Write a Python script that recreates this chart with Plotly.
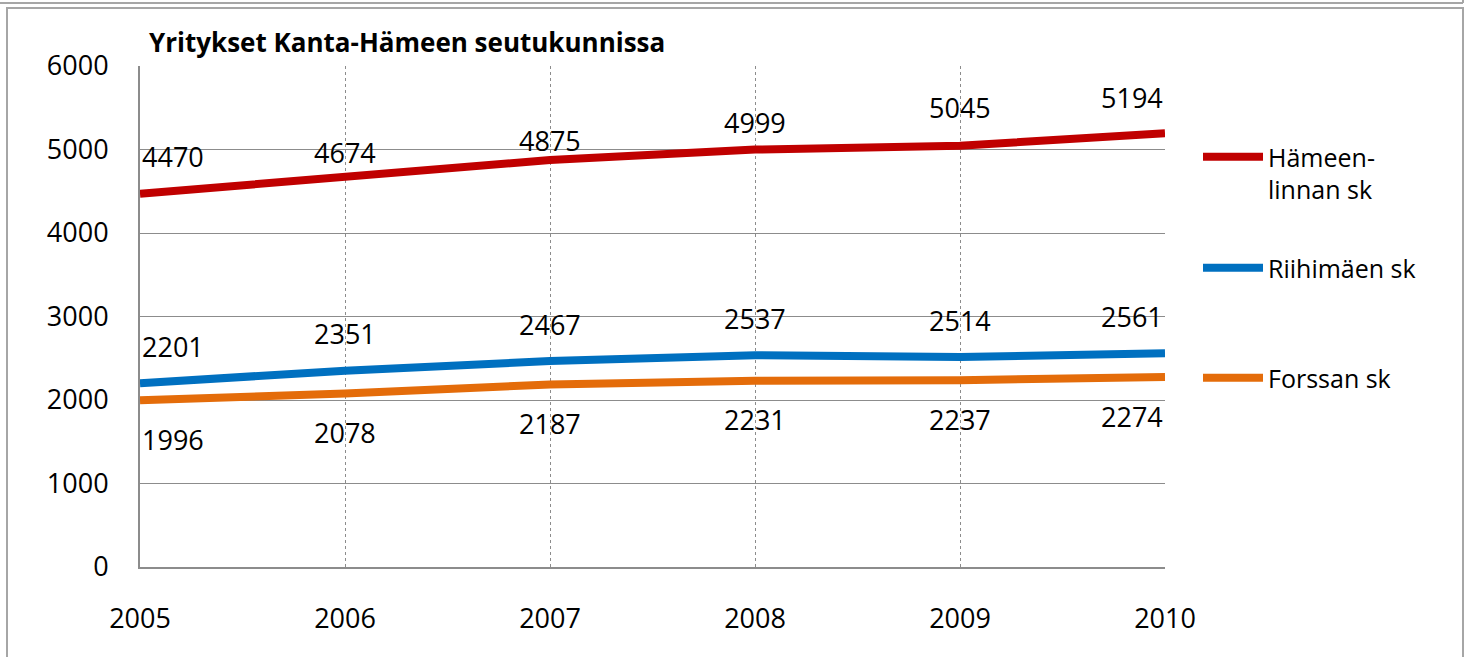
import plotly.graph_objects as go

# ---- data ----
years = [2005, 2006, 2007, 2008, 2009, 2010]
series_names = ["Hämeen-<br>linnan sk", "Riihimäen sk", "Forssan sk"]
hameenlinna = [4470, 4674, 4875, 4999, 5045, 5194]
riihimaki = [2201, 2351, 2467, 2537, 2514, 2561]
forssa = [1996, 2078, 2187, 2231, 2237, 2274]
y_ticks = [0, 1000, 2000, 3000, 4000, 5000, 6000]
title_text = "Yritykset Kanta-Hämeen seutukunnissa"

# ---- style ----
colors = ["#C00000", "#0070C0", "#E46C0A"]
FONT = "Open Sans"
W, H = 1472, 657
L, R, T, B = 140, 1165, 66, 567   # plot area in pixels
red_shift = [37, 24, 19, 27, 38, 36]   # label offsets (px) for top series
blue_shift = 37
orange_shift = -39
legend_tops = [134, 245, 355]          # pixel top of each legend block

def px_x(p):
    return (p - L) / (R - L)

def px_y(p):
    return (B - p) / (B - T)

fig = go.Figure()
legend_ids = ["legend", "legend2", "legend3"]
for name, vals, col, lid in zip(series_names, [hameenlinna, riihimaki, forssa], colors, legend_ids):
    fig.add_trace(go.Scatter(x=years, y=vals, mode="lines", name=name,
                             line=dict(color=col, width=8), legend=lid))

def anchor(i):
    if i == 0:
        return "left"
    if i == len(years) - 1:
        return "right"
    return "center"

annotations = []
for i, (yr, v) in enumerate(zip(years, hameenlinna)):
    annotations.append(dict(x=yr, y=v, text=str(v), showarrow=False, xanchor=anchor(i),
                            yanchor="middle", yshift=red_shift[i]))
for i, (yr, v) in enumerate(zip(years, riihimaki)):
    annotations.append(dict(x=yr, y=v, text=str(v), showarrow=False, xanchor=anchor(i),
                            yanchor="middle", yshift=blue_shift))
for i, (yr, v) in enumerate(zip(years, forssa)):
    annotations.append(dict(x=yr, y=v, text=str(v), showarrow=False, xanchor=anchor(i),
                            yanchor="middle", yshift=orange_shift))
for a in annotations:
    a["font"] = dict(family=FONT, size=27, color="#000000")

annotations.append(dict(x=px_x(147), y=px_y(42), xref="paper", yref="paper",
                        text="<b>" + title_text + "</b>", showarrow=False,
                        xanchor="left", yanchor="middle",
                        font=dict(family=FONT, size=26, color="#000000")))

shapes = [
    dict(type="rect", xref="paper", yref="paper", x0=px_x(7), x1=px_x(1463),
         y0=px_y(700), y1=px_y(8), line=dict(color="#A6A6A6", width=2), layer="below"),
    dict(type="line", xref="paper", yref="paper", x0=px_x(0), x1=px_x(1463),
         y0=px_y(3), y1=px_y(3), line=dict(color="#A6A6A6", width=2), layer="below"),
    dict(type="line", xref="paper", yref="paper", x0=px_x(1463), x1=px_x(1463),
         y0=px_y(3), y1=px_y(-5), line=dict(color="#A6A6A6", width=2), layer="below"),
]

legend_common = dict(xanchor="left", yanchor="top",
                     font=dict(family=FONT, size=25, color="#000000"),
                     itemwidth=60, valign="top", bgcolor="rgba(0,0,0,0)")

fig.update_layout(
    width=W, height=H,
    margin=dict(l=L, r=W - R, t=T, b=H - B, pad=0),
    paper_bgcolor="#FFFFFF", plot_bgcolor="#FFFFFF",
    font=dict(family=FONT, size=27, color="#000000"),
    annotations=annotations, shapes=shapes,
    showlegend=True,
    legend=dict(x=px_x(1198), y=px_y(legend_tops[0]), **legend_common),
    legend2=dict(x=px_x(1198), y=px_y(legend_tops[1]), **legend_common),
    legend3=dict(x=px_x(1198), y=px_y(legend_tops[2]), **legend_common),
    xaxis=dict(range=[2005, 2010], tickvals=years, ticktext=[str(y) for y in years],
               showgrid=True, gridcolor="#8C8C8C", griddash="dot", gridwidth=1,
               showline=True, linecolor="#8C8C8C", linewidth=2, ticks="",
               ticklabelstandoff=27, tickfont=dict(family=FONT, size=27),
               zeroline=False, fixedrange=True),
    yaxis=dict(range=[0, 6000], tickvals=y_ticks,
               showgrid=True, gridcolor="#8C8C8C", gridwidth=1,
               showline=True, linecolor="#8C8C8C", linewidth=2, ticks="",
               ticklabelstandoff=24, tickfont=dict(family=FONT, size=27),
               zeroline=False, fixedrange=True),
)

fig.write_html("out.html", config={"displayModeBar": False},
               post_script="document.body.style.margin='0';")
